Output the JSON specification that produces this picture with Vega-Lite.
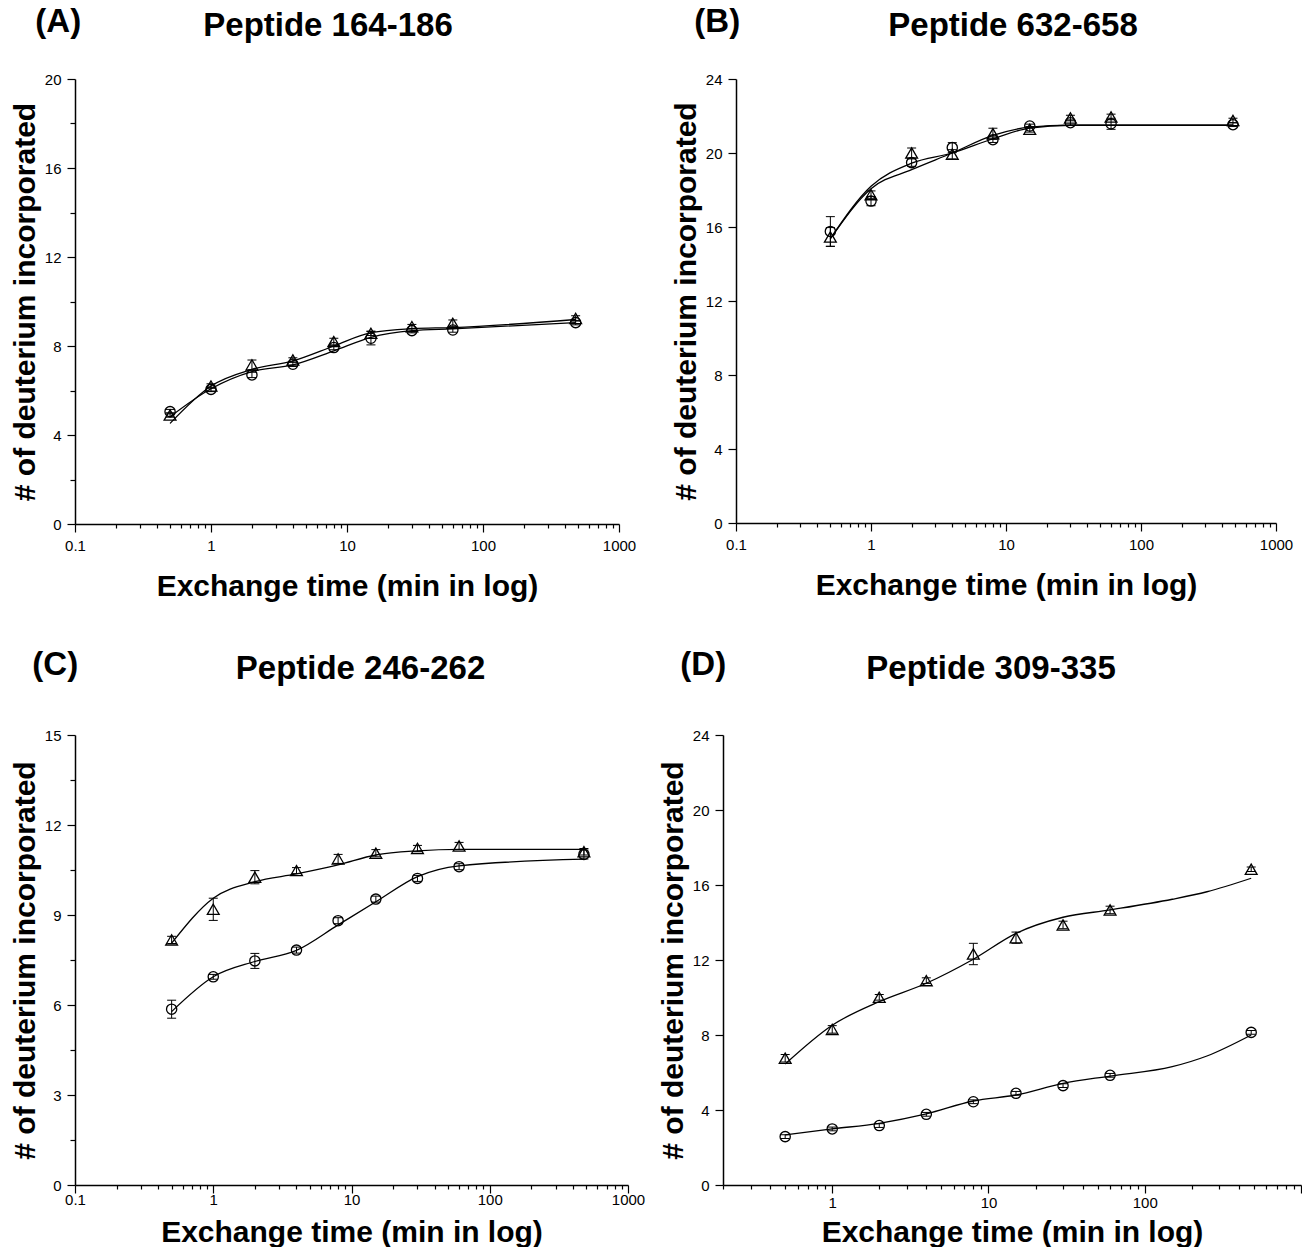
{
"$schema": "https://vega.github.io/schema/vega-lite/v6.json",
"padding": {"left": 10, "top": 6, "right": 0, "bottom": 0},
"background": "white",
"datasets": {
"pts": [
{"p":"A","s":"tri","t":0.5,"v":4.9,"lo":4.8,"hi":5.0},
{"p":"A","s":"tri","t":1,"v":6.2,"lo":6.1,"hi":6.3},
{"p":"A","s":"tri","t":2,"v":7.15,"lo":6.93,"hi":7.37},
{"p":"A","s":"tri","t":4,"v":7.37,"lo":7.27,"hi":7.47},
{"p":"A","s":"tri","t":8,"v":8.2,"lo":8.05,"hi":8.35},
{"p":"A","s":"tri","t":15,"v":8.57,"lo":8.47,"hi":8.67},
{"p":"A","s":"tri","t":30,"v":8.87,"lo":8.77,"hi":8.97},
{"p":"A","s":"tri","t":60,"v":9.02,"lo":8.87,"hi":9.17},
{"p":"A","s":"tri","t":480,"v":9.24,"lo":9.12,"hi":9.36},
{"p":"A","s":"circ","t":0.5,"v":5.05,"lo":4.95,"hi":5.15},
{"p":"A","s":"circ","t":1,"v":6.05,"lo":5.95,"hi":6.15},
{"p":"A","s":"circ","t":2,"v":6.7,"lo":6.58,"hi":6.82},
{"p":"A","s":"circ","t":4,"v":7.18,"lo":7.08,"hi":7.28},
{"p":"A","s":"circ","t":8,"v":7.93,"lo":7.83,"hi":8.03},
{"p":"A","s":"circ","t":15,"v":8.35,"lo":8.05,"hi":8.65},
{"p":"A","s":"circ","t":30,"v":8.69,"lo":8.59,"hi":8.79},
{"p":"A","s":"circ","t":60,"v":8.72,"lo":8.62,"hi":8.82},
{"p":"A","s":"circ","t":480,"v":9.05,"lo":8.95,"hi":9.15},
{"p":"B","s":"tri","t":0.5,"v":15.46,"lo":14.95,"hi":15.97},
{"p":"B","s":"tri","t":1,"v":17.75,"lo":17.55,"hi":17.95},
{"p":"B","s":"tri","t":2,"v":20.0,"lo":19.73,"hi":20.27},
{"p":"B","s":"tri","t":4,"v":19.93,"lo":19.68,"hi":20.18},
{"p":"B","s":"tri","t":8,"v":21.04,"lo":20.74,"hi":21.34},
{"p":"B","s":"tri","t":15,"v":21.28,"lo":21.13,"hi":21.43},
{"p":"B","s":"tri","t":30,"v":21.89,"lo":21.74,"hi":22.04},
{"p":"B","s":"tri","t":60,"v":21.95,"lo":21.8,"hi":22.1},
{"p":"B","s":"tri","t":480,"v":21.76,"lo":21.64,"hi":21.88},
{"p":"B","s":"circ","t":0.5,"v":15.76,"lo":14.96,"hi":16.56},
{"p":"B","s":"circ","t":1,"v":17.4,"lo":17.15,"hi":17.65},
{"p":"B","s":"circ","t":2,"v":19.48,"lo":19.28,"hi":19.68},
{"p":"B","s":"circ","t":4,"v":20.29,"lo":20.02,"hi":20.56},
{"p":"B","s":"circ","t":8,"v":20.72,"lo":20.57,"hi":20.87},
{"p":"B","s":"circ","t":15,"v":21.46,"lo":21.36,"hi":21.56},
{"p":"B","s":"circ","t":30,"v":21.64,"lo":21.49,"hi":21.79},
{"p":"B","s":"circ","t":60,"v":21.58,"lo":21.28,"hi":21.88},
{"p":"B","s":"circ","t":480,"v":21.53,"lo":21.43,"hi":21.63},
{"p":"C","s":"tri","t":0.5,"v":8.17,"lo":8.05,"hi":8.29},
{"p":"C","s":"tri","t":1,"v":9.19,"lo":8.82,"hi":9.56},
{"p":"C","s":"tri","t":2,"v":10.26,"lo":10.04,"hi":10.48},
{"p":"C","s":"tri","t":4,"v":10.48,"lo":10.38,"hi":10.58},
{"p":"C","s":"tri","t":8,"v":10.87,"lo":10.72,"hi":11.02},
{"p":"C","s":"tri","t":15,"v":11.06,"lo":10.94,"hi":11.18},
{"p":"C","s":"tri","t":30,"v":11.22,"lo":11.12,"hi":11.32},
{"p":"C","s":"tri","t":60,"v":11.3,"lo":11.18,"hi":11.42},
{"p":"C","s":"tri","t":480,"v":11.11,"lo":11.0,"hi":11.22},
{"p":"C","s":"circ","t":0.5,"v":5.86,"lo":5.56,"hi":6.16},
{"p":"C","s":"circ","t":1,"v":6.94,"lo":6.86,"hi":7.02},
{"p":"C","s":"circ","t":2,"v":7.47,"lo":7.22,"hi":7.72},
{"p":"C","s":"circ","t":4,"v":7.83,"lo":7.73,"hi":7.93},
{"p":"C","s":"circ","t":8,"v":8.81,"lo":8.71,"hi":8.91},
{"p":"C","s":"circ","t":15,"v":9.53,"lo":9.43,"hi":9.63},
{"p":"C","s":"circ","t":30,"v":10.22,"lo":10.12,"hi":10.32},
{"p":"C","s":"circ","t":60,"v":10.61,"lo":10.51,"hi":10.71},
{"p":"C","s":"circ","t":480,"v":11.02,"lo":10.87,"hi":11.17},
{"p":"D","s":"tri","t":0.5,"v":6.76,"lo":6.56,"hi":6.96},
{"p":"D","s":"tri","t":1,"v":8.3,"lo":8.1,"hi":8.5},
{"p":"D","s":"tri","t":2,"v":10.01,"lo":9.86,"hi":10.16},
{"p":"D","s":"tri","t":4,"v":10.9,"lo":10.75,"hi":11.05},
{"p":"D","s":"tri","t":8,"v":12.32,"lo":11.75,"hi":12.89},
{"p":"D","s":"tri","t":15,"v":13.19,"lo":12.89,"hi":13.49},
{"p":"D","s":"tri","t":30,"v":13.87,"lo":13.67,"hi":14.07},
{"p":"D","s":"tri","t":60,"v":14.67,"lo":14.47,"hi":14.87},
{"p":"D","s":"tri","t":480,"v":16.84,"lo":16.72,"hi":16.96},
{"p":"D","s":"circ","t":0.5,"v":2.58,"lo":2.48,"hi":2.68},
{"p":"D","s":"circ","t":1,"v":2.99,"lo":2.89,"hi":3.09},
{"p":"D","s":"circ","t":2,"v":3.17,"lo":3.07,"hi":3.27},
{"p":"D","s":"circ","t":4,"v":3.77,"lo":3.67,"hi":3.87},
{"p":"D","s":"circ","t":8,"v":4.44,"lo":4.34,"hi":4.54},
{"p":"D","s":"circ","t":15,"v":4.89,"lo":4.79,"hi":4.99},
{"p":"D","s":"circ","t":30,"v":5.3,"lo":5.2,"hi":5.4},
{"p":"D","s":"circ","t":60,"v":5.85,"lo":5.75,"hi":5.95},
{"p":"D","s":"circ","t":480,"v":8.14,"lo":8.04,"hi":8.24}
],
"fit": [
{"p":"A","s":"tri","t":0.5,"v":4.52},{"p":"A","s":"tri","t":1,"v":6.2},{"p":"A","s":"tri","t":2,"v":6.95},{"p":"A","s":"tri","t":4,"v":7.33},{"p":"A","s":"tri","t":8,"v":8.0},{"p":"A","s":"tri","t":15,"v":8.6},{"p":"A","s":"tri","t":30,"v":8.78},{"p":"A","s":"tri","t":60,"v":8.83},{"p":"A","s":"tri","t":480,"v":9.19},
{"p":"A","s":"circ","t":0.5,"v":4.82},{"p":"A","s":"circ","t":1,"v":6.08},{"p":"A","s":"circ","t":2,"v":6.85},{"p":"A","s":"circ","t":4,"v":7.15},{"p":"A","s":"circ","t":8,"v":7.78},{"p":"A","s":"circ","t":15,"v":8.39},{"p":"A","s":"circ","t":30,"v":8.69},{"p":"A","s":"circ","t":60,"v":8.77},{"p":"A","s":"circ","t":480,"v":9.05},
{"p":"B","s":"tri","t":0.5,"v":15.37},{"p":"B","s":"tri","t":1,"v":18.07},{"p":"B","s":"tri","t":2,"v":19.1},{"p":"B","s":"tri","t":4,"v":20.0},{"p":"B","s":"tri","t":8,"v":20.95},{"p":"B","s":"tri","t":15,"v":21.4},{"p":"B","s":"tri","t":30,"v":21.51},{"p":"B","s":"tri","t":60,"v":21.5},{"p":"B","s":"tri","t":480,"v":21.5},
{"p":"B","s":"circ","t":0.5,"v":15.37},{"p":"B","s":"circ","t":1,"v":18.2},{"p":"B","s":"circ","t":2,"v":19.45},{"p":"B","s":"circ","t":4,"v":20.0},{"p":"B","s":"circ","t":8,"v":20.77},{"p":"B","s":"circ","t":15,"v":21.35},{"p":"B","s":"circ","t":30,"v":21.5},{"p":"B","s":"circ","t":60,"v":21.5},{"p":"B","s":"circ","t":480,"v":21.5},
{"p":"C","s":"tri","t":0.5,"v":8.06},{"p":"C","s":"tri","t":1,"v":9.56},{"p":"C","s":"tri","t":2,"v":10.11},{"p":"C","s":"tri","t":4,"v":10.37},{"p":"C","s":"tri","t":8,"v":10.67},{"p":"C","s":"tri","t":15,"v":11.0},{"p":"C","s":"tri","t":30,"v":11.14},{"p":"C","s":"tri","t":60,"v":11.19},{"p":"C","s":"tri","t":480,"v":11.19},
{"p":"C","s":"circ","t":0.5,"v":5.78},{"p":"C","s":"circ","t":1,"v":6.94},{"p":"C","s":"circ","t":2,"v":7.45},{"p":"C","s":"circ","t":4,"v":7.82},{"p":"C","s":"circ","t":8,"v":8.67},{"p":"C","s":"circ","t":15,"v":9.44},{"p":"C","s":"circ","t":30,"v":10.28},{"p":"C","s":"circ","t":60,"v":10.64},{"p":"C","s":"circ","t":480,"v":10.86},
{"p":"D","s":"tri","t":0.5,"v":6.45},{"p":"D","s":"tri","t":1,"v":8.52},{"p":"D","s":"tri","t":2,"v":9.78},{"p":"D","s":"tri","t":4,"v":10.76},{"p":"D","s":"tri","t":8,"v":12.04},{"p":"D","s":"tri","t":15,"v":13.42},{"p":"D","s":"tri","t":30,"v":14.28},{"p":"D","s":"tri","t":60,"v":14.67},{"p":"D","s":"tri","t":150,"v":15.24},{"p":"D","s":"tri","t":250,"v":15.64},{"p":"D","s":"tri","t":480,"v":16.36},
{"p":"D","s":"circ","t":0.5,"v":2.67},{"p":"D","s":"circ","t":1,"v":2.99},{"p":"D","s":"circ","t":2,"v":3.29},{"p":"D","s":"circ","t":4,"v":3.79},{"p":"D","s":"circ","t":8,"v":4.48},{"p":"D","s":"circ","t":15,"v":4.8},{"p":"D","s":"circ","t":30,"v":5.42},{"p":"D","s":"circ","t":60,"v":5.81},{"p":"D","s":"circ","t":150,"v":6.31},{"p":"D","s":"circ","t":250,"v":6.88},{"p":"D","s":"circ","t":480,"v":8.0}
]
},
"vconcat": [
{"hconcat": [
{"title": {"text": "(A)", "anchor": "start", "frame": "bounds", "offset": 0, "dx": 25, "dy": 29},
 "vconcat": [{
 "width": 544, "height": 445,
 "title": {"text": "Peptide 164-186", "anchor": "middle", "frame": "group", "offset": 29, "dx": -19},
 "layer": [
  {"data": {"name": "fit"}, "transform": [{"filter": "datum.p == 'A'"}],
   "mark": {"type": "line", "interpolate": "monotone", "color": "black", "strokeWidth": 1.3},
   "encoding": {
    "x": {"field": "t", "type": "quantitative", "scale": {"type": "log", "domain": [0.1, 1000], "nice": false},
      "axis": {"title": "Exchange time (min in log)", "values": [0.1,0.2,0.3,0.4,0.5,0.6,0.7,0.8,0.9,1,2,3,4,5,6,7,8,9,10,20,30,40,50,60,70,80,90,100,200,300,400,500,600,700,800,900,1000], "format": "~g", "labelExpr": "indexof([0.1,1,10,100,1000], datum.value) >= 0 ? datum.label : ''", "tickSize": {"condition": {"test": "indexof([0.1,1,10,100,1000], datum.value) >= 0", "value": 8}, "value": 4}}},
    "y": {"field": "v", "type": "quantitative", "scale": {"domain": [0, 20], "nice": false},
      "axis": {"title": "# of deuterium incorporated", "values": [0,2,4,6,8,10,12,14,16,18,20], "labelExpr": "datum.value % 4 == 0 ? datum.label : ''", "tickSize": {"condition": {"test": "datum.value % 4 == 0", "value": 8}, "value": 5}}},
    "detail": {"field": "s"}}},
  {"data": {"name": "pts"}, "transform": [{"filter": "datum.p == 'A'"}],
   "mark": {"type": "rule", "color": "black", "strokeWidth": 1},
   "encoding": {"x": {"field": "t", "type": "quantitative"}, "y": {"field": "lo", "type": "quantitative"}, "y2": {"field": "hi"}}},
  {"data": {"name": "pts"}, "transform": [{"filter": "datum.p == 'A'"}],
   "mark": {"type": "tick", "orient": "horizontal", "size": 9, "thickness": 1, "color": "black", "opacity": 1},
   "encoding": {"x": {"field": "t", "type": "quantitative"}, "y": {"field": "lo", "type": "quantitative"}}},
  {"data": {"name": "pts"}, "transform": [{"filter": "datum.p == 'A'"}],
   "mark": {"type": "tick", "orient": "horizontal", "size": 9, "thickness": 1, "color": "black", "opacity": 1},
   "encoding": {"x": {"field": "t", "type": "quantitative"}, "y": {"field": "hi", "type": "quantitative"}}},
  {"data": {"name": "pts"}, "transform": [{"filter": "datum.p == 'A'"}],
   "mark": {"type": "point", "filled": false, "color": "black", "strokeWidth": 1.3, "opacity": 1},
   "encoding": {"x": {"field": "t", "type": "quantitative"}, "y": {"field": "v", "type": "quantitative"},
     "shape": {"field": "s", "type": "nominal", "scale": {"domain": ["tri","circ"], "range": ["triangle-up","circle"]}, "legend": null},
     "size": {"field": "s", "type": "nominal", "scale": {"domain": ["tri","circ"], "range": [140, 105]}, "legend": null}}}
 ]}]},
{"title": {"text": "(B)", "anchor": "start", "frame": "bounds", "offset": 0, "dx": 23, "dy": 29},
 "vconcat": [{
 "width": 540, "height": 444,
 "title": {"text": "Peptide 632-658", "anchor": "middle", "frame": "group", "offset": 29, "dx": 7},
 "layer": [
  {"data": {"name": "fit"}, "transform": [{"filter": "datum.p == 'B'"}],
   "mark": {"type": "line", "interpolate": "monotone", "color": "black", "strokeWidth": 1.3},
   "encoding": {
    "x": {"field": "t", "type": "quantitative", "scale": {"type": "log", "domain": [0.1, 1000], "nice": false},
      "axis": {"title": "Exchange time (min in log)", "values": [0.1,0.2,0.3,0.4,0.5,0.6,0.7,0.8,0.9,1,2,3,4,5,6,7,8,9,10,20,30,40,50,60,70,80,90,100,200,300,400,500,600,700,800,900,1000], "format": "~g", "labelExpr": "indexof([0.1,1,10,100,1000], datum.value) >= 0 ? datum.label : ''", "tickSize": {"condition": {"test": "indexof([0.1,1,10,100,1000], datum.value) >= 0", "value": 8}, "value": 4}}},
    "y": {"field": "v", "type": "quantitative", "scale": {"domain": [0, 24], "nice": false},
      "axis": {"title": "# of deuterium incorporated", "values": [0,2,4,6,8,10,12,14,16,18,20,22,24], "labelExpr": "datum.value % 4 == 0 ? datum.label : ''", "tickSize": {"condition": {"test": "datum.value % 4 == 0", "value": 8}, "value": 5}}},
    "detail": {"field": "s"}}},
  {"data": {"name": "pts"}, "transform": [{"filter": "datum.p == 'B'"}],
   "mark": {"type": "rule", "color": "black", "strokeWidth": 1},
   "encoding": {"x": {"field": "t", "type": "quantitative"}, "y": {"field": "lo", "type": "quantitative"}, "y2": {"field": "hi"}}},
  {"data": {"name": "pts"}, "transform": [{"filter": "datum.p == 'B'"}],
   "mark": {"type": "tick", "orient": "horizontal", "size": 9, "thickness": 1, "color": "black", "opacity": 1},
   "encoding": {"x": {"field": "t", "type": "quantitative"}, "y": {"field": "lo", "type": "quantitative"}}},
  {"data": {"name": "pts"}, "transform": [{"filter": "datum.p == 'B'"}],
   "mark": {"type": "tick", "orient": "horizontal", "size": 9, "thickness": 1, "color": "black", "opacity": 1},
   "encoding": {"x": {"field": "t", "type": "quantitative"}, "y": {"field": "hi", "type": "quantitative"}}},
  {"data": {"name": "pts"}, "transform": [{"filter": "datum.p == 'B'"}],
   "mark": {"type": "point", "filled": false, "color": "black", "strokeWidth": 1.3, "opacity": 1},
   "encoding": {"x": {"field": "t", "type": "quantitative"}, "y": {"field": "v", "type": "quantitative"},
     "shape": {"field": "s", "type": "nominal", "scale": {"domain": ["tri","circ"], "range": ["triangle-up","circle"]}, "legend": null},
     "size": {"field": "s", "type": "nominal", "scale": {"domain": ["tri","circ"], "range": [140, 105]}, "legend": null}}}
 ]}]}
], "spacing": 35},
{"hconcat": [
{"title": {"text": "(C)", "anchor": "start", "frame": "bounds", "offset": 0, "dx": 22, "dy": 29},
 "vconcat": [{
 "width": 553, "height": 450,
 "title": {"text": "Peptide 246-262", "anchor": "middle", "frame": "group", "offset": 42, "dx": 9},
 "layer": [
  {"data": {"name": "fit"}, "transform": [{"filter": "datum.p == 'C'"}],
   "mark": {"type": "line", "interpolate": "monotone", "color": "black", "strokeWidth": 1.3},
   "encoding": {
    "x": {"field": "t", "type": "quantitative", "scale": {"type": "log", "domain": [0.1, 1000], "nice": false},
      "axis": {"title": "Exchange time (min in log)", "labelPadding": -1, "titlePadding": 10, "values": [0.1,0.2,0.3,0.4,0.5,0.6,0.7,0.8,0.9,1,2,3,4,5,6,7,8,9,10,20,30,40,50,60,70,80,90,100,200,300,400,500,600,700,800,900,1000], "format": "~g", "labelExpr": "indexof([0.1,1,10,100,1000], datum.value) >= 0 ? datum.label : ''", "tickSize": {"condition": {"test": "indexof([0.1,1,10,100,1000], datum.value) >= 0", "value": 8}, "value": 4}}},
    "y": {"field": "v", "type": "quantitative", "scale": {"domain": [0, 15], "nice": false},
      "axis": {"title": "# of deuterium incorporated", "values": [0,1.5,3,4.5,6,7.5,9,10.5,12,13.5,15], "labelExpr": "datum.value % 3 == 0 ? datum.label : ''", "tickSize": {"condition": {"test": "datum.value % 3 == 0", "value": 8}, "value": 5}}},
    "detail": {"field": "s"}}},
  {"data": {"name": "pts"}, "transform": [{"filter": "datum.p == 'C'"}],
   "mark": {"type": "rule", "color": "black", "strokeWidth": 1},
   "encoding": {"x": {"field": "t", "type": "quantitative"}, "y": {"field": "lo", "type": "quantitative"}, "y2": {"field": "hi"}}},
  {"data": {"name": "pts"}, "transform": [{"filter": "datum.p == 'C'"}],
   "mark": {"type": "tick", "orient": "horizontal", "size": 9, "thickness": 1, "color": "black", "opacity": 1},
   "encoding": {"x": {"field": "t", "type": "quantitative"}, "y": {"field": "lo", "type": "quantitative"}}},
  {"data": {"name": "pts"}, "transform": [{"filter": "datum.p == 'C'"}],
   "mark": {"type": "tick", "orient": "horizontal", "size": 9, "thickness": 1, "color": "black", "opacity": 1},
   "encoding": {"x": {"field": "t", "type": "quantitative"}, "y": {"field": "hi", "type": "quantitative"}}},
  {"data": {"name": "pts"}, "transform": [{"filter": "datum.p == 'C'"}],
   "mark": {"type": "point", "filled": false, "color": "black", "strokeWidth": 1.3, "opacity": 1},
   "encoding": {"x": {"field": "t", "type": "quantitative"}, "y": {"field": "v", "type": "quantitative"},
     "shape": {"field": "s", "type": "nominal", "scale": {"domain": ["tri","circ"], "range": ["triangle-up","circle"]}, "legend": null},
     "size": {"field": "s", "type": "nominal", "scale": {"domain": ["tri","circ"], "range": [140, 105]}, "legend": null}}}
 ]}]},
{"title": {"text": "(D)", "anchor": "start", "frame": "bounds", "offset": 0, "dx": 22, "dy": 29},
 "vconcat": [{
 "width": 578, "height": 450,
 "title": {"text": "Peptide 309-335", "anchor": "middle", "frame": "group", "offset": 42, "dx": -21},
 "layer": [
  {"data": {"name": "fit"}, "transform": [{"filter": "datum.p == 'D'"}],
   "mark": {"type": "line", "interpolate": "monotone", "color": "black", "strokeWidth": 1.3},
   "encoding": {
    "x": {"field": "t", "type": "quantitative", "scale": {"type": "log", "domain": [0.2, 1000], "nice": false},
      "axis": {"title": "Exchange time (min in log)", "labelPadding": 2, "titlePadding": 7, "values": [0.2,0.3,0.4,0.5,0.6,0.7,0.8,0.9,1,2,3,4,5,6,7,8,9,10,20,30,40,50,60,70,80,90,100,200,300,400,500,600,700,800,900,1000], "format": "~g", "labelExpr": "indexof([1,10,100], datum.value) >= 0 ? datum.label : ''", "tickSize": {"condition": {"test": "indexof([1,10,100,1000], datum.value) >= 0", "value": 8}, "value": 4}}},
    "y": {"field": "v", "type": "quantitative", "scale": {"domain": [0, 24], "nice": false},
      "axis": {"title": "# of deuterium incorporated", "values": [0,2,4,6,8,10,12,14,16,18,20,22,24], "labelExpr": "datum.value % 4 == 0 ? datum.label : ''", "tickSize": {"condition": {"test": "datum.value % 4 == 0", "value": 8}, "value": 5}}},
    "detail": {"field": "s"}}},
  {"data": {"name": "pts"}, "transform": [{"filter": "datum.p == 'D'"}],
   "mark": {"type": "rule", "color": "black", "strokeWidth": 1},
   "encoding": {"x": {"field": "t", "type": "quantitative"}, "y": {"field": "lo", "type": "quantitative"}, "y2": {"field": "hi"}}},
  {"data": {"name": "pts"}, "transform": [{"filter": "datum.p == 'D'"}],
   "mark": {"type": "tick", "orient": "horizontal", "size": 9, "thickness": 1, "color": "black", "opacity": 1},
   "encoding": {"x": {"field": "t", "type": "quantitative"}, "y": {"field": "lo", "type": "quantitative"}}},
  {"data": {"name": "pts"}, "transform": [{"filter": "datum.p == 'D'"}],
   "mark": {"type": "tick", "orient": "horizontal", "size": 9, "thickness": 1, "color": "black", "opacity": 1},
   "encoding": {"x": {"field": "t", "type": "quantitative"}, "y": {"field": "hi", "type": "quantitative"}}},
  {"data": {"name": "pts"}, "transform": [{"filter": "datum.p == 'D'"}],
   "mark": {"type": "point", "filled": false, "color": "black", "strokeWidth": 1.3, "opacity": 1},
   "encoding": {"x": {"field": "t", "type": "quantitative"}, "y": {"field": "v", "type": "quantitative"},
     "shape": {"field": "s", "type": "nominal", "scale": {"domain": ["tri","circ"], "range": ["triangle-up","circle"]}, "legend": null},
     "size": {"field": "s", "type": "nominal", "scale": {"domain": ["tri","circ"], "range": [140, 105]}, "legend": null}}}
 ]}]}
], "spacing": 13}
],
"spacing": 48,
"config": {
 "font": "Liberation Sans",
 "view": {"stroke": null},
 "axis": {"grid": false, "domainColor": "#000", "domainWidth": 1.5, "tickColor": "#000", "tickWidth": 1.2, "labelColor": "#000", "labelFontSize": 15, "labelFont": "Liberation Sans", "titleFont": "Liberation Sans", "titleFontWeight": "bold", "titleColor": "#000", "titleFontSize": 30, "labelOverlap": false, "labelFlush": false, "labelBound": false},
 "axisX": {"labelPadding": 6, "titlePadding": 18},
 "axisY": {"labelPadding": 6, "titlePadding": 4},
 "title": {"font": "Liberation Sans", "fontSize": 33, "fontWeight": "bold", "color": "#000", "baseline": "alphabetic"}
}
}
